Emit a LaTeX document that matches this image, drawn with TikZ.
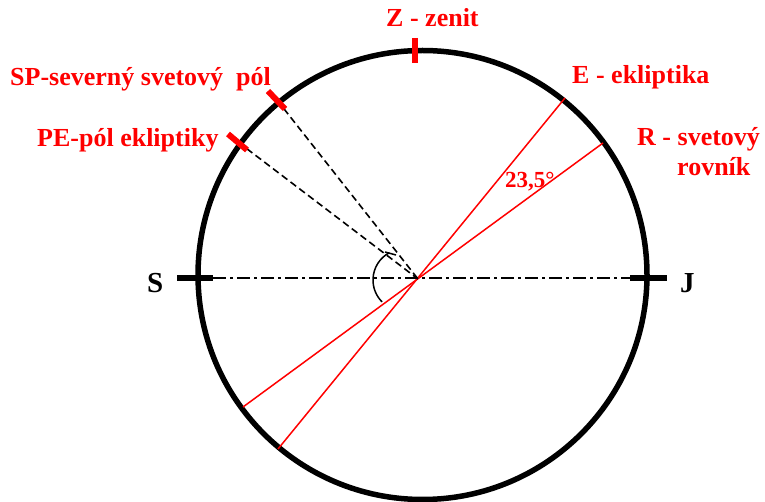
\documentclass[tikz,border=0pt]{standalone}
\usepackage{fontspec}
\setmainfont{Liberation Serif}
\begin{document}
\begin{tikzpicture}[x=1pt,y=1pt,
  lbl/.style={text=red,font=\bfseries\fontsize{26}{30}\selectfont,inner sep=0pt,anchor=base west},
  sjl/.style={text=black,font=\bfseries\fontsize{29}{32}\selectfont,inner sep=0pt,anchor=base west},
  redtick/.style={draw=red,line width=6pt},
  blacktick/.style={draw=black,line width=6pt},
  redline/.style={draw=red,line width=1.5pt},
  dashln/.style={draw=black,line width=1.6pt,dash pattern=on 7pt off 4pt},
  dashdot/.style={draw=black,line width=2pt,dash pattern=on 13pt off 4pt on 3pt off 4pt}]
\useasboundingbox (0,0) rectangle (765,-502);
% circle
\coordinate (C) at (422.5,-275);
\draw[line width=5.5pt] (C) circle[radius=224.5];
% key points
\coordinate (O) at (418,-279);
\coordinate (Z1) at (415,-38);
\coordinate (Z2) at (415,-63);
\coordinate (SP1) at (268,-91);
\coordinate (SP2) at (285,-109);
\coordinate (SP) at (277,-100);
\coordinate (PE1) at (228,-134);
\coordinate (PE2) at (247,-150);
\coordinate (PE) at (238,-142);
\coordinate (S1) at (177,-278);
\coordinate (S2) at (213,-278);
\coordinate (J1) at (630,-278);
\coordinate (J2) at (667,-278);
\coordinate (Eup) at (565,-98);
\coordinate (Edn) at (278,-449);
\coordinate (Rup) at (603,-143);
\coordinate (Rdn) at (243,-407);
% axis
\draw[dashdot] (S2) -- (J1);
% ecliptic and equator
\draw[redline] (Eup) -- (Edn);
\draw[redline] (Rup) -- (Rdn);
% dashed lines to poles
\draw[dashln] (SP) -- (O);
\draw[dashln] (PE) -- (O);
% angle arc
\coordinate (A) at (404,-280);
\draw[line width=1.5pt] (A) ++(118:31) arc[start angle=118,end angle=225,radius=31];
\coordinate (T1) at (385,-252);
\coordinate (T2) at (396,-255);
\draw[line width=1.5pt] (T1) -- (T2);
% ticks
\draw[redtick] (Z1) -- (Z2);
\draw[redtick] (SP1) -- (SP2);
\draw[redtick] (PE1) -- (PE2);
\draw[blacktick] (S1) -- (S2);
\draw[blacktick] (J1) -- (J2);
% labels
\node[lbl] (tZ) at (386,-27) {Z - zenit};
\node[lbl] (tSP) at (10,-86) {SP-severný svetový\ \ pól};
\node[lbl] (tPE) at (37,-147) {PE-pól ekliptiky};
\node[lbl] (tE) at (572,-84) {E - ekliptika};
\node[lbl] (tR) at (637,-146) {R - svetový};
\node[lbl] (tR2) at (677,-176) {rovník};
\node[lbl,font=\bfseries\fontsize{23}{26}\selectfont] (tang) at (505,-188) {23,5°};
\node[sjl] (tS) at (147,-293) {S};
\node[sjl] (tJ) at (680,-293) {J};
\end{tikzpicture}
\end{document}
